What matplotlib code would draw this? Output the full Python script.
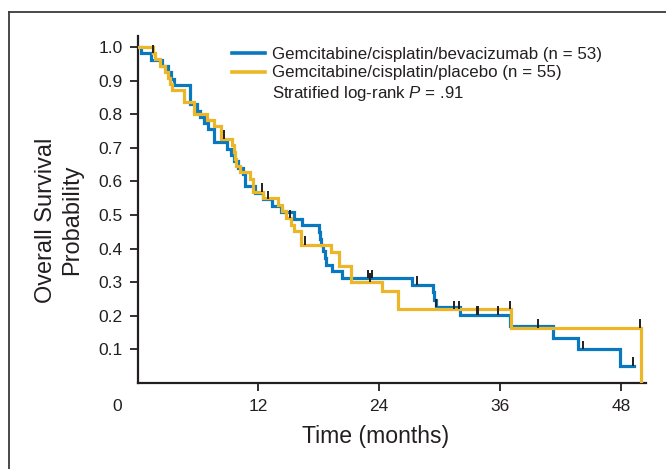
import numpy as np
import matplotlib
matplotlib.use('Agg')
import matplotlib.pyplot as plt
from matplotlib import font_manager
from matplotlib.transforms import ScaledTranslation
from matplotlib.lines import Line2D

# ---------------- data ----------------
bev_label = 'Gemcitabine/cisplatin/bevacizumab (n = 53)'
bev_times = [0.35, 1.3, 2.4, 3.0, 3.3, 3.6, 5.2, 5.9, 6.2, 6.6, 7.0, 7.6,
             8.9, 9.3, 9.6, 10.0, 10.5, 10.7, 11.7, 12.5, 13.4, 14.2, 15.5,
             16.35, 18.0, 18.1, 18.2, 18.4, 18.6, 18.7, 19.3, 20.3, 27.3,
             29.3, 29.4, 29.6, 32.0, 37.0, 41.3, 43.7, 47.9]
bev_surv = [0.981, 0.962, 0.943, 0.925, 0.906, 0.887, 0.830, 0.811, 0.792,
            0.773, 0.755, 0.717, 0.698, 0.679, 0.660, 0.641, 0.622, 0.585,
            0.566, 0.547, 0.527, 0.508, 0.489, 0.469, 0.450, 0.430, 0.412,
            0.392, 0.372, 0.352, 0.332, 0.312, 0.292, 0.270, 0.248, 0.225,
            0.203, 0.169, 0.135, 0.101, 0.051]
bev_censor = [13.0, 22.9, 23.3, 27.8, 29.6, 33.7, 33.8, 35.8, 44.2, 49.2]
bev_end = 49.3

pla_label = 'Gemcitabine/cisplatin/placebo (n = 55)'
pla_times = [1.5, 1.75, 2.25, 2.7, 3.0, 3.2, 3.4, 4.6, 5.6, 6.9, 7.55, 8.3,
             9.4, 9.55, 9.65, 9.75, 10.2, 11.2, 11.5, 12.5, 14.0, 14.3, 14.7,
             15.2, 15.5, 16.2, 19.2, 20.0, 21.2, 24.3, 25.9, 37.1, 50.0]
pla_surv = [0.982, 0.964, 0.945, 0.927, 0.909, 0.891, 0.873, 0.836, 0.800,
            0.782, 0.764, 0.727, 0.708, 0.689, 0.668, 0.647, 0.627, 0.607,
            0.570, 0.551, 0.531, 0.511, 0.491, 0.471, 0.451, 0.412, 0.390,
            0.347, 0.302, 0.275, 0.220, 0.165, 0.0]
pla_censor = [1.5, 8.6, 12.4, 15.1, 16.6, 23.1, 31.4, 31.9, 37.0, 39.8, 49.9]
pla_end = 50.0

stat_text = 'Stratified log-rank $P$ = .91'
x_ticks = [0, 12, 24, 36, 48]
y_ticks = [0.1, 0.2, 0.3, 0.4, 0.5, 0.6, 0.7, 0.8, 0.9, 1.0]
x_title = 'Time (months)'
y_title = 'Overall Survival\nProbability'

# ---------------- style ----------------
BLUE = '#0a78bf'
GOLD = '#ebb628'
DARK = '#231f20'
REG = ['Liberation Sans', 'DejaVu Sans']


def have_font(name):
    try:
        font_manager.findfont(font_manager.FontProperties(family=name),
                              fallback_to_default=False)
        return True
    except Exception:
        return False


NARROW = (['Liberation Sans Narrow'] if have_font('Liberation Sans Narrow')
          else []) + REG

plt.rcParams['font.family'] = REG
plt.rcParams['mathtext.fontset'] = 'custom'
plt.rcParams['mathtext.it'] = 'Liberation Sans:italic'
plt.rcParams['mathtext.rm'] = 'Liberation Sans'


def km_xy(times, surv, end):
    x = np.concatenate([[0.0], times, [end]])
    y = np.concatenate([[1.0], surv, [surv[-1]]])
    return x, y


def surv_at(times, surv, t):
    t = np.asarray(t)
    idx = np.searchsorted(np.asarray(times), t, side='right')
    s = np.asarray(surv)
    return np.where(idx == 0, 1.0, s[np.maximum(idx - 1, 0)])


fig = plt.figure(figsize=(6.66, 4.69), dpi=100)
ax = fig.add_axes([0.2065, 0.1834, 0.7635, 0.7399])

# outer frame: only the left and top rules are visible in the reference
fx, fy = 9.0 / 666, 1 - 12.0 / 469
fig.add_artist(Line2D([fx, fx], [0, fy], transform=fig.transFigure,
                      color='#3a3a3a', lw=1.3))
fig.add_artist(Line2D([fx, 1], [fy, fy], transform=fig.transFigure,
                      color='#3a3a3a', lw=1.3))

bx, by = km_xy(bev_times, bev_surv, bev_end)
px, py = km_xy(pla_times, pla_surv, pla_end)
ax.step(bx, by, where='post', color=BLUE, lw=2.3, zorder=3,
        label=bev_label, solid_joinstyle='miter')
ax.step(px, py, where='post', color=GOLD, lw=2.3, zorder=4,
        label=pla_label, solid_joinstyle='miter')

# censor marks (short vertical ticks rising from the curve)
tick_h = 0.025
bcs = surv_at(bev_times, bev_surv, bev_censor)
pcs = surv_at(pla_times, pla_surv, pla_censor)
ax.vlines(bev_censor, bcs, bcs + tick_h, color=DARK, lw=1.4, zorder=5)
ax.vlines(pla_censor, pcs, pcs + tick_h, color=DARK, lw=1.4, zorder=5)

ax.set_xlim(0, 50.5)
ax.set_ylim(0, 1.033)
for s in ['top', 'right']:
    ax.spines[s].set_visible(False)
for s in ['left', 'bottom']:
    ax.spines[s].set_color(DARK)
    ax.spines[s].set_linewidth(1.6)

ax.set_xticks(x_ticks)
ax.set_xticklabels([str(v) for v in x_ticks])
ax.set_yticks(y_ticks)
ax.set_yticklabels(['%.1f' % v for v in y_ticks])
ax.tick_params(axis='both', direction='out', colors=DARK, labelsize=12.5,
               width=1.3)
ax.tick_params(axis='x', length=5.5, pad=6)
ax.tick_params(axis='y', length=6, pad=4.5)

# "0" label sits left of the origin, no tick mark there
t0 = ax.xaxis.get_major_ticks()[0]
t0.tick1line.set_visible(False)
t0.label1.set_transform(t0.label1.get_transform() +
                        ScaledTranslation(-0.20, 0, fig.dpi_scale_trans))

ax.set_xlabel(x_title, family=NARROW, fontsize=20, color=DARK)
ax.xaxis.set_label_coords(0.468, -0.122)
ax.xaxis.label.set_va('top')
ax.set_ylabel(y_title, family=NARROW, fontsize=20, color=DARK,
              linespacing=1.22)
ax.yaxis.set_label_coords(-0.107, 0.47)

handles = [Line2D([], [], color=BLUE, lw=2.6),
           Line2D([], [], color=GOLD, lw=2.6),
           Line2D([], [], color='none', lw=0)]
labels = [bev_label, pla_label, stat_text]
leg = ax.legend(handles, labels, loc='upper left',
                bbox_to_anchor=(0.185, 0.968), frameon=False, fontsize=12.2,
                borderpad=0, borderaxespad=0, handlelength=1.98,
                handletextpad=0.42, labelspacing=0.2)
for txt in leg.get_texts():
    txt.set_color(DARK)

# fit the axis titles to the widths measured on the reference
renderer = fig.canvas.get_renderer()
xl = ax.xaxis.label
w = xl.get_window_extent(renderer).width
xl.set_fontsize(xl.get_fontsize() * 147.0 / w)
yl = ax.yaxis.label
h = yl.get_window_extent(renderer).height
yl.set_fontsize(yl.get_fontsize() * 165.0 / h)

fig.savefig('out.png', dpi=100)
